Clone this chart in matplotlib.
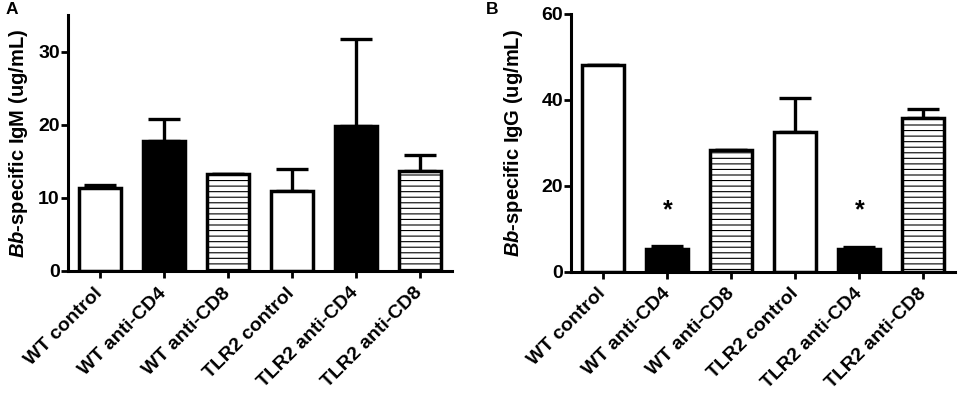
import matplotlib
matplotlib.use("Agg")
import matplotlib.pyplot as plt

plt.rcParams['font.family'] = ['Liberation Sans', 'DejaVu Sans']
plt.rcParams['font.weight'] = 'bold'
plt.rcParams['mathtext.fontset'] = 'custom'
plt.rcParams['mathtext.it'] = 'Liberation Sans:italic:bold'
plt.rcParams['mathtext.rm'] = 'Liberation Sans:bold'
plt.rcParams['hatch.linewidth'] = 0.8

groups = ['WT control', 'WT anti-CD4', 'WT anti-CD8',
          'TLR2 control', 'TLR2 anti-CD4', 'TLR2 anti-CD8']
igm = [11.3, 17.8, 13.3, 11.0, 19.8, 13.7]
igm_err = [0.5, 3.0, 0.0, 3.0, 11.9, 2.2]
igg = [48.1, 5.4, 28.4, 32.4, 5.4, 35.8]
igg_err = [0.0, 0.6, 0.0, 8.0, 0.4, 2.1]
star_groups = [1, 4]
star_level = 14.4

faces = ['white', 'black', 'white', 'white', 'black', 'white']
hatches = ['', '', '---', '', '', '---']

fig = plt.figure(figsize=(9.65, 3.95), dpi=100)
axA = fig.add_axes([0.0705, 0.314, 0.3975, 0.648])
axB = fig.add_axes([0.592, 0.312, 0.398, 0.653])


def draw(ax, vals, errs, ymax, yticks, ylabel, labx):
    x = list(range(len(vals)))
    ax.errorbar(x, vals, yerr=[[0] * len(vals), errs], fmt='none',
                ecolor='black', elinewidth=2.4, capsize=11.5, capthick=2.4,
                zorder=1)
    for i in x:
        ax.bar(i, vals[i], width=0.66, color=faces[i], edgecolor='black',
               linewidth=2.5, hatch=hatches[i], zorder=2)
    ax.set_xlim(-0.5, 5.5)
    ax.set_ylim(0, ymax)
    ax.set_yticks(yticks)
    ax.set_xticks(x)
    ax.set_xticklabels(groups, rotation=45, ha='right', va='center',
                       rotation_mode='anchor', fontsize=14, fontweight='bold')
    for s in ['top', 'right']:
        ax.spines[s].set_visible(False)
    for s in ['left', 'bottom']:
        ax.spines[s].set_linewidth(2.2)
    ax.tick_params(axis='both', width=2, length=5, labelsize=14)
    ax.tick_params(axis='x', pad=9)
    ax.tick_params(axis='y', pad=1)
    ax.set_ylabel(ylabel, fontsize=14.5, fontweight='bold')
    ax.yaxis.set_label_coords(labx, 0.5)


draw(axA, igm, igm_err, 35, [0, 10, 20, 30],
     r'$\mathit{Bb}$-specific IgM (ug/mL)', -0.10)
draw(axB, igg, igg_err, 60, [0, 20, 40, 60],
     r'$\mathit{Bb}$-specific IgG (ug/mL)', -0.12)

for g in star_groups:
    axB.text(g, star_level, '*', ha='center', va='center',
             fontsize=18, fontweight='bold')

fig.text(0.006, 0.975, 'A', fontsize=12.5, fontweight='bold', va='center')
fig.text(0.503, 0.975, 'B', fontsize=12.5, fontweight='bold', va='center')

fig.savefig('out.png', dpi=100)
